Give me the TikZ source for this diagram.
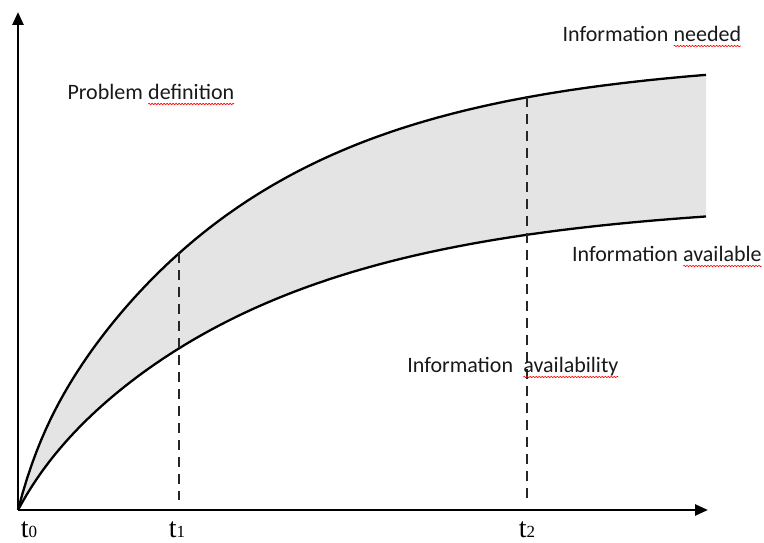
\documentclass[tikz,border=0pt]{standalone}
\usepackage{fontspec}
\setmainfont{Carlito}
\newfontfamily\tfont{Liberation Serif}
\usetikzlibrary{arrows.meta,decorations.pathmorphing}
\definecolor{bandgray}{RGB}{228,228,228}
\newcommand\spell[1]{\tikz[baseline=(w.base)]{\node[inner sep=0pt,outer sep=0pt] (w) {#1};\draw[red,line width=0.6pt,decorate,decoration={snake,amplitude=0.7pt,segment length=3pt}] ([yshift=-4pt]w.base west) -- ([yshift=-4pt]w.base east);}}
\newcommand\tlab[1]{{\tfont\fontsize{28}{28}\selectfont t\fontsize{17}{17}\selectfont #1}}
\begin{document}
\begin{tikzpicture}[x=1pt,y=1pt,
  declare function={up(\x)=45*(1-exp(-\x/22))+408*(1-exp(-\x/220));
                    lo(\x)=20*(1-exp(-\x/30))+290*(1-exp(-\x/240));},
  axis/.style={line width=2.6pt,-{Triangle[length=13pt,width=11pt]}},
  curve/.style={line width=2.3pt},
  guide/.style={line width=2.2pt,dash pattern=on 10pt off 7pt,black!85},
  lbl/.style={font=\fontsize{22}{22}\selectfont,inner sep=0pt,anchor=base,text=black!90},
  tl/.style={inner sep=0pt,anchor=base}]
\useasboundingbox (-18,-33) rectangle (746,510);
\coordinate (O) at (0,0);
\coordinate (Y) at (0,498);
\coordinate (X) at (690,0);
\coordinate (u1) at (161,{up(161)});
\coordinate (b1) at (161,10);
\coordinate (u2) at (509,{up(509)});
\coordinate (b2) at (509,5);
% band
\fill[bandgray] plot[domain=0:688,samples=150] (\x,{up(\x)})
  -- plot[domain=688:0,samples=150] (\x,{lo(\x)}) -- cycle;
\draw[curve] plot[domain=0:688,samples=150] (\x,{up(\x)});
\draw[curve] plot[domain=0:688,samples=150] (\x,{lo(\x)});
\draw[guide] (u1) -- (b1);
\draw[guide] (u2) -- (b2);
\draw[axis] (O) -- (Y);
\draw[axis] (O) -- (X);
\node[lbl] (pd) at (133,410) {Problem \spell{definition}};
\node[lbl] (need) at (634,468) {Information \spell{needed}};
\node[lbl] (avl) at (649,248) {Information \spell{available}};
\node[lbl] (avy) at (495,137) {Information\ \ \spell{availability}};
\node[tl] (t0) at (11,-28) {\tlab{0}};
\node[tl] (t1) at (159,-28) {\tlab{1}};
\node[tl] (t2) at (509,-28) {\tlab{2}};
\end{tikzpicture}
\end{document}
